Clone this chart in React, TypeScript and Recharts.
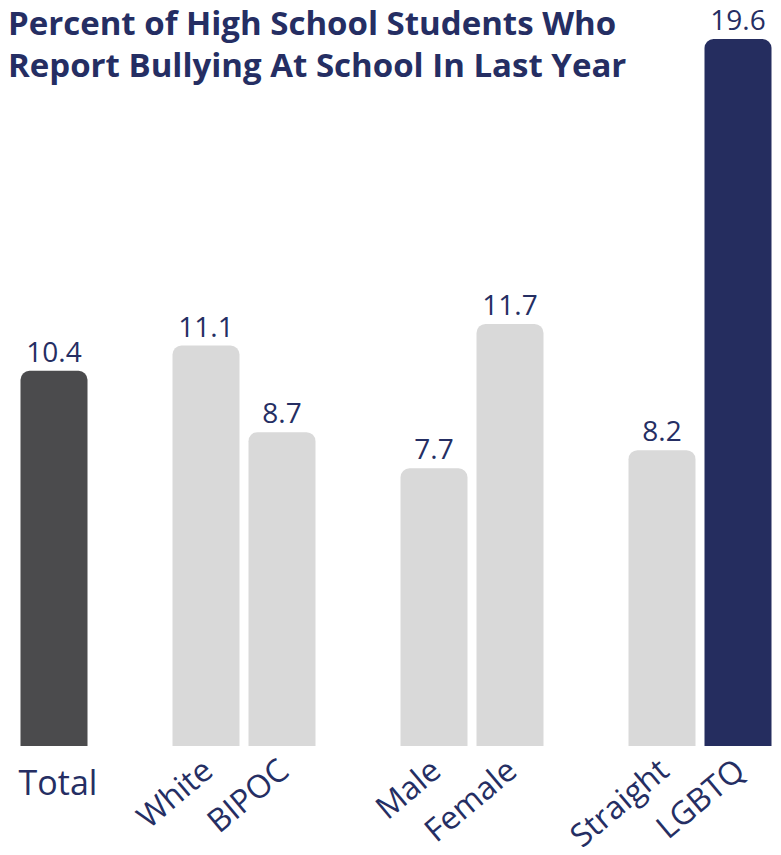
import React from 'react';
import { BarChart, Bar, XAxis, YAxis, Cell, LabelList } from 'recharts';

// gaps between groups are empty categories
const categories = ['Total', '', 'White', 'BIPOC', '', 'Male', 'Female', '', 'Straight', 'LGBTQ'];
const percents = [10.4, null, 11.1, 8.7, null, 7.7, 11.7, null, 8.2, 19.6];

const data = categories.map((name, i) => ({ name, value: percents[i] }));

const NAVY = '#252e63';
const FONT = '"Open Sans", sans-serif';

const barColor = (name: string) => {
  if (name === 'Total') return '#4b4b4d';
  if (name === 'LGBTQ') return '#252d5f';
  return '#d9d9d9';
};

function CategoryTick(props: any) {
  const { x, y, payload } = props;
  const label = payload.value;
  if (!label) return null;
  if (label === 'Total') {
    return (
      <text x={x + 4} y={y + 41} textAnchor="middle" fill={NAVY} fontFamily={FONT} fontSize={34}>
        {label}
      </text>
    );
  }
  const ax = x + 9;
  const ay = y + 20;
  return (
    <text
      x={ax}
      y={ay}
      textAnchor="end"
      transform={`rotate(-40, ${ax}, ${ay})`}
      fill={NAVY}
      fontFamily={FONT}
      fontSize={32}
    >
      {label}
    </text>
  );
}

export default function App() {
  // cancel the default body margin so the chart fills the page
  return (
    <div style={{ position: 'relative', width: 781, height: 855, margin: -8 }}>
      <div
        style={{
          position: 'absolute',
          left: 8,
          top: 2,
          fontFamily: FONT,
          fontWeight: 700,
          fontSize: 33,
          lineHeight: '42px',
          color: NAVY,
          zIndex: 1,
          pointerEvents: 'none',
          whiteSpace: 'nowrap',
        }}
      >
        Percent of High School Students Who
        <br />
        Report Bullying At School In Last Year
      </div>
      <BarChart
        width={781}
        height={855}
        data={data}
        margin={{ top: 39, right: 5, left: 16, bottom: 0 }}
        barCategoryGap={4.5}
      >
        <XAxis
          dataKey="name"
          height={109}
          axisLine={false}
          tickLine={false}
          interval={0}
          tick={<CategoryTick />}
        />
        <YAxis hide domain={[0, 19.6]} />
        <Bar dataKey="value" radius={[9, 9, 0, 0]} isAnimationActive={false}>
          {data.map((d, i) => (
            <Cell key={i} fill={barColor(d.name)} />
          ))}
          <LabelList
            dataKey="value"
            position="top"
            offset={9}
            fill={NAVY}
            fontFamily={FONT}
            fontSize={28}
            formatter={(v: any) => (v == null ? '' : v)}
          />
        </Bar>
      </BarChart>
    </div>
  );
}
